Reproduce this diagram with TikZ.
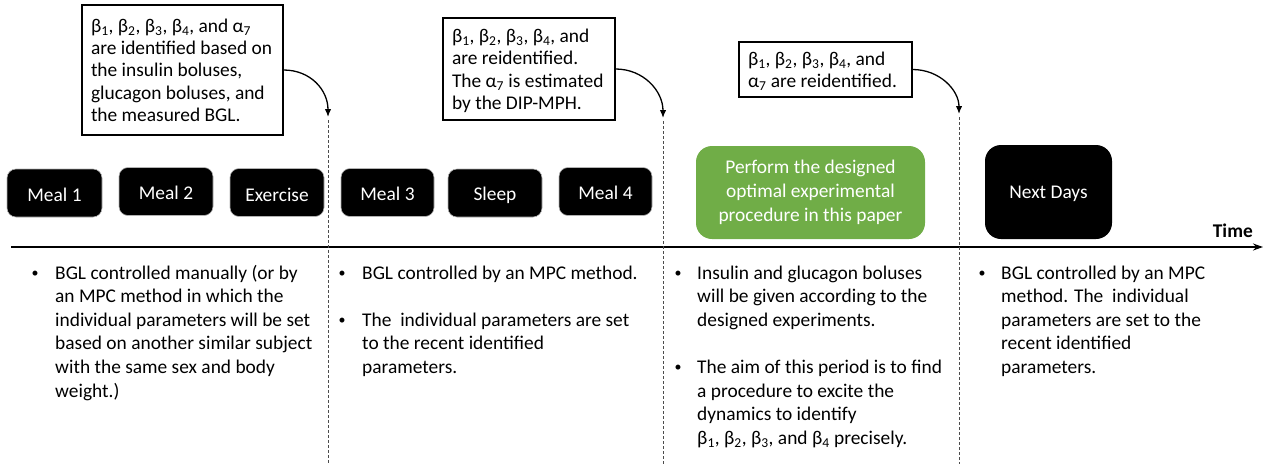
\documentclass[tikz,border=0pt]{standalone}
\usepackage{fontspec}
\setmainfont{Carlito}
\usetikzlibrary{arrows.meta}
\newcommand\bet[1]{β\textsubscript{#1}}
\newcommand\alp[1]{α\textsubscript{#1}}
\newcommand\fs{\fontsize{19.4}{23.6}\selectfont}
\newcommand\fsn{\fontsize{19.4}{22.4}\selectfont}
\newcommand\fsb{\fontsize{19.4}{23.6}\selectfont}
\newcommand\down[2]{\raisebox{0pt}[\dimexpr\height+#1\relax][\depth]{#2}}
\newcommand\lines[2]{\down{5pt}{\makebox[#1][l]{\begin{tabular}{@{}l@{}}#2\end{tabular}}}}
\newcommand\plines[1]{\begin{tabular}[t]{@{}l@{}}#1\end{tabular}}
\begin{document}
\begin{tikzpicture}[x=1pt,y=-1pt,
  evbox/.style={fill=black, draw=gray!60, line width=0.6pt, rounded corners=9pt,
    text=white, font=\fs, inner sep=0pt, minimum height=48pt},
  bigbox/.style={rounded corners=16pt, text=white, font=\fs, inner sep=0pt, align=center},
  note/.style={draw=black, line width=1.1pt, fill=white, inner xsep=9pt, inner ysep=0pt, font=\fsn},
  conn/.style={line width=1.3pt, -{Latex[length=8pt,width=6.5pt]}},
  split/.style={line width=0.8pt, draw=black!70, dash pattern=on 3pt off 2pt},
  para/.style={font=\fsb, inner sep=0pt, anchor=base west},
  bul/.style={font=\fontsize{14}{14}\selectfont, inner sep=0pt, anchor=base}
]
\useasboundingbox (0,0) rectangle (1267,464);

% timeline
\coordinate (t0) at (11,247);
\coordinate (t1) at (1263,247);
\draw[line width=1.6pt, -{Stealth[length=10pt,width=7pt]}] (t0) -- (t1);
\node[font=\bfseries\fs, inner sep=0pt, anchor=base east] (time) at (1253,237) {Time};

% dashed separators
\coordinate (a1) at (328,117); \coordinate (d1t) at (328,120); \coordinate (d1b) at (328,464);
\coordinate (a2) at (663,118); \coordinate (d2t) at (663,121); \coordinate (d2b) at (663,464);
\coordinate (a3) at (959,114); \coordinate (d3t) at (959,117); \coordinate (d3b) at (959,464);
\draw[split] (d1t) -- (d1b);
\draw[split] (d2t) -- (d2b);
\draw[split] (d3t) -- (d3b);

% event boxes
\node[evbox, minimum width=95pt] (m1) at (54.5,193) {\down{4pt}{Meal 1}};
\node[evbox, minimum width=94pt] (m2) at (166,191.5) {\down{2pt}{Meal 2}};
\node[evbox, minimum width=94pt] (ex) at (277,192.5) {\down{4pt}{Exercise}};
\node[evbox, minimum width=93pt] (m3) at (387.5,192.5) {\down{2pt}{Meal 3}};
\node[evbox, minimum width=94pt] (sl) at (495,193) {\down{4pt}{Sleep}};
\node[evbox, minimum width=93pt] (m4) at (605.5,191.5) {\down{2pt}{Meal 4}};
\node[bigbox, fill={rgb,255:red,112;green,173;blue,71}, minimum width=229pt, minimum height=93pt,
  font=\fontsize{19.4}{24}\selectfont] (gr) at (810.5,192.5)
  {Perform the designed\\optimal experimental\\procedure in this paper};
\node[bigbox, fill=black, minimum width=127pt, minimum height=94pt] (nd) at (1048.5,192) {\down{4pt}{Next Days}};

% notes
\node[note, minimum width=201pt, minimum height=130pt] (b1) at (182.5,70)
  {\lines{183pt}{\bet1, \bet2, \bet3, \bet4, and \alp7\\are identified based on\\the insulin boluses,\\glucagon boluses, and\\the measured BGL.}};
\node[note, minimum width=172pt, minimum height=102pt] (b2) at (529,69)
  {\lines{154pt}{\bet1, \bet2, \bet3, \bet4, and\\are reidentified.\\The \alp7 is estimated\\by the DIP-MPH.}};
\node[note, minimum width=173pt, minimum height=55pt] (b3) at (825.5,69.5)
  {\lines{155pt}{\bet1, \bet2, \bet3, \bet4, and\\\alp7 are reidentified.}};

\draw[conn] (b1.east) .. controls +(27,0) and +(0,-27) .. (a1);
\draw[conn] (b2.east) .. controls +(28,0) and +(0,-27) .. (a2);
\draw[conn] (b3.east) .. controls +(27,0) and +(0,-24) .. (a3);

% bottom texts
\node[bul] (u1) at (35,277) {•};
\node[para] (p1) at (55,279) {\plines{BGL controlled manually (or by\\an MPC method in which the\\individual parameters will be set\\based on another similar subject\\with the same sex and body\\weight.)}};

\node[bul] (u2) at (342,277) {•};
\node[para] (p2) at (362,279) {\plines{BGL controlled by an MPC method.}};
\node[bul] (u3) at (342,324.2) {•};
\node[para] (p3) at (362,326.2) {\plines{The~ individual parameters are set\\to the recent identified\\parameters.}};

\node[bul] (u4) at (678,277) {•};
\node[para] (p4) at (697,279) {\plines{Insulin and glucagon boluses\\will be given according to the\\designed experiments.}};
\node[bul] (u5) at (678,371.4) {•};
\node[para] (p5) at (697,373.4) {\plines{The aim of this period is to find\\a procedure to excite the\\dynamics to identify\\\bet1, \bet2, \bet3, and \bet4 precisely.}};

\node[bul] (u6) at (982,277) {•};
\node[para] (p6) at (1001,279) {\plines{BGL controlled by an MPC\\method. The~ individual\\parameters are set to the\\recent identified\\parameters.}};
\end{tikzpicture}
\end{document}
